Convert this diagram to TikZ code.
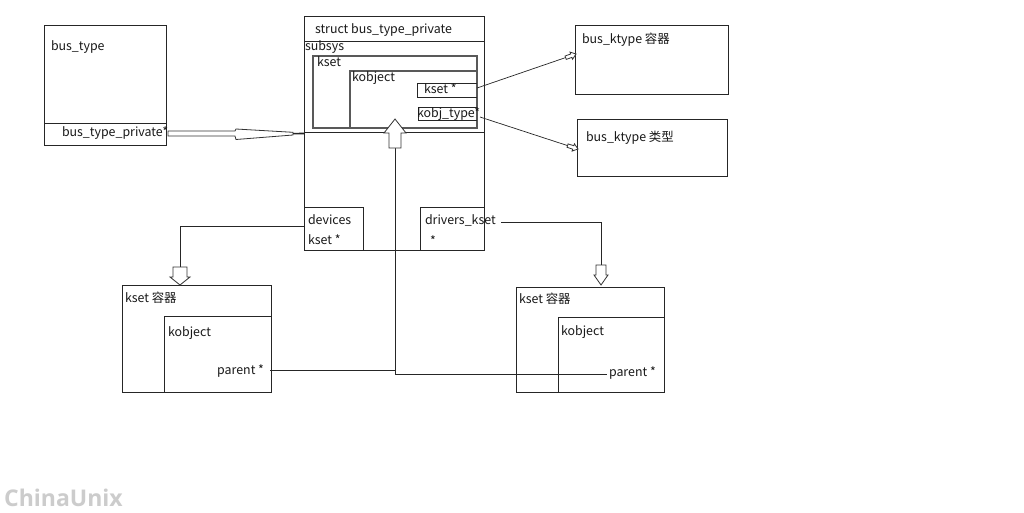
\documentclass[tikz,border=0pt]{standalone}
\usepackage{fontspec}
\setmainfont{Noto Sans CJK SC}
\newfontfamily\wmfont{Open Sans}
\newcommand\blockarr[7]{%
  \begin{scope}[shift={(#1,#2)},rotate=#3]
    \draw[arrowline,fill=white] (0,0)--(-#4,#5)--(-#4,#7)--({-#4-#6},#7)--({-#4-#6},-#7)--(-#4,-#7)--(-#4,-#5)--cycle;
  \end{scope}}
\begin{document}
\begin{tikzpicture}[x=1pt,y=-1pt,
  box/.style={draw=black!85,line width=0.8pt,inner sep=0pt,outer sep=0pt,anchor=north west},
  inbox/.style={draw=black!65,line width=1.3pt,inner sep=0pt,outer sep=0pt,anchor=north west},
  lbl/.style={inner sep=0pt,outer sep=0pt,anchor=west,text height=8.5pt,text depth=2.5pt,text=black!90,font=\fontsize{12.4}{14}\selectfont},
  conn/.style={draw=black!85,line width=0.7pt},
  arrowline/.style={draw=black!80,line width=0.8pt}]
\useasboundingbox[fill=white] (0,0) rectangle (1024,512);

% bus_type
\node[box,minimum width=122pt,minimum height=120pt] (bustype) at (44,25) {};
\draw[box] (44,123) -- (166,123);
\node[lbl] (tbt) at (51,47) {bus\_type};
\node[lbl] (tbtp) at (62,133) {bus\_type\_private*};

% struct bus_type_private
\node[box,minimum width=180pt,minimum height=234pt] (priv) at (304,16) {};
\draw[box] (304,41) -- (484,41);
\draw[box] (304,132) -- (484,132);
\node[lbl] (tpriv) at (315,30) {struct bus\_type\_private};
\node[lbl] (tsub) at (305,47) {subsys};
\node[inbox,minimum width=164pt,minimum height=72pt] (kset) at (313,56) {};
\node[lbl] (tkset) at (317,63) {kset};
\draw[inbox] (350,128) -- (350,71) -- (477,71);
\node[lbl] (tkobj) at (352,78) {kobject};
\draw[box] (477,83) -- (417,83) -- (417,97) -- (477,97);
\node[lbl] (tksp) at (424,90) {kset *};
\draw[box] (477,107) -- (418,107) -- (418,120) -- (477,120);
\node[lbl] (tkt) at (417,114) {kobj\_type*};
% devices / drivers_kset
\draw[box] (304,207) -- (363,207) -- (363,250);
\node[lbl] (tdev) at (308,221) {devices};
\node[lbl] (tdevk) at (308,241) {kset *};
\draw[box] (420,250) -- (420,207) -- (484,207);
\node[lbl] (tdrv) at (425,221) {drivers\_kset};
\node[lbl] (tdrvs) at (430,242) {*};

% bus_ktype boxes
\node[box,minimum width=153pt,minimum height=69pt] (kcont) at (575,25) {};
\node[lbl] (tkc) at (582,40) {bus\_ktype 容器};
\node[box,minimum width=150pt,minimum height=57pt] (ktype) at (577,119) {};
\node[lbl] (tkty) at (586,138) {bus\_ktype 类型};

% left kset container
\node[box,minimum width=149pt,minimum height=107pt] (lks) at (122,285) {};
\node[lbl] (tlks) at (125,299) {kset 容器};
\draw[box] (164,392) -- (164,316) -- (271,316);
\node[lbl] (tlko) at (168,333) {kobject};
\node[lbl,anchor=east] (tlp) at (264,371) {parent *};

% right kset container
\node[box,minimum width=148pt,minimum height=105pt] (rks) at (516,287) {};
\node[lbl] (trks) at (519,300) {kset 容器};
\draw[box] (558,392) -- (558,317) -- (664,317);
\node[lbl] (trko) at (561,332) {kobject};
\node[lbl] (trp) at (609,373) {parent *};

% coordinates
\coordinate (a1) at (168,133.5);
\coordinate (a2) at (304,133.5);
\coordinate (k1) at (477,88);
\coordinate (k2) at (576,54);
\coordinate (t1) at (480,117);
\coordinate (t2) at (578,149);
\coordinate (d1) at (304,226);
\coordinate (d2) at (180,226);
\coordinate (d3) at (180,267);
\coordinate (r1) at (501,222);
\coordinate (r2) at (601,222);
\coordinate (r3) at (601,265);
\coordinate (u1) at (395,148);
\coordinate (u2) at (395,374);
\coordinate (p1) at (270,370);
\coordinate (p2) at (395,370);
\coordinate (p3) at (607,374);

% big horizontal hollow arrow
\draw[arrowline,fill=white] (168,131) -- (235,131) -- (236,129) -- (293,132.3) -- (293,135) -- (236,139.5) -- (235,136) -- (168,136) -- cycle;
\draw[conn,line width=1.6pt] (293,133.6) -- (a2);

% connectors
\draw[conn] (k1) -- (k2);
\blockarr{576}{54}{19.7}{5}{3.8}{6}{1.8}
\draw[conn] (t1) -- (t2);
\blockarr{578}{149}{-18}{5}{3.8}{6}{1.8}
\draw[conn] (d1) -- (d2) -- (d3);
\blockarr{180}{285}{-90}{8}{10}{10}{7}
\draw[conn] (r1) -- (r2) -- (r3);
\blockarr{601}{285}{-90}{10}{7}{10}{5}
\draw[conn] (u2) -- (u1);
\blockarr{395}{119}{90}{14}{11}{15}{6}
\draw[conn] (p1) -- (p2);
\draw[conn] (u2) -- (p3);

% watermark
\node[inner sep=0pt,anchor=base west,text=black!20,font=\wmfont\bfseries\fontsize{23}{25}\selectfont] (wm) at (4,506) {ChinaUnix};
\end{tikzpicture}
\end{document}
